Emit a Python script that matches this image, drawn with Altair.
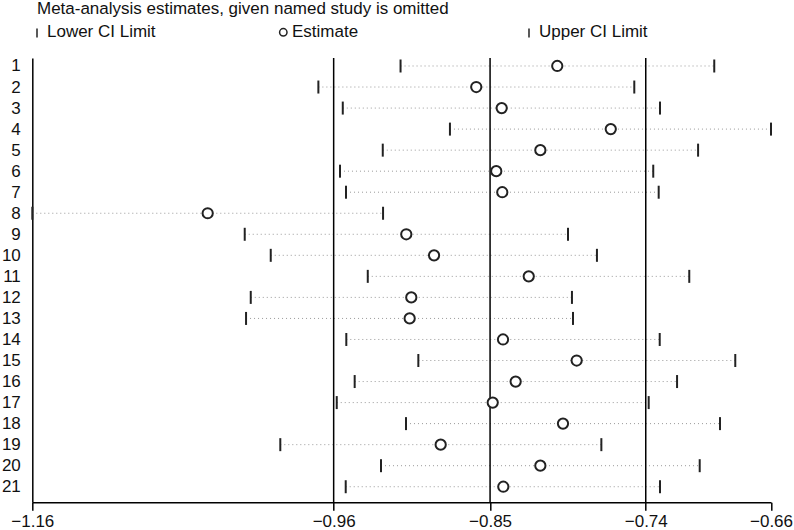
import altair as alt
import pandas as pd

# Leave-one-out meta-analysis: pooled estimate and CI when each study is omitted
study = list(range(1, 22))
lower = [-0.9105, -0.9664, -0.9498, -0.8769, -0.9226, -0.9517, -0.9476, -1.1610,
         -1.0165, -0.9988, -0.9328, -1.0124, -1.0156, -0.9474, -0.8984, -0.9417,
         -0.9539, -0.9068, -0.9923, -0.9238, -0.9478]
estimate = [-0.8039, -0.8590, -0.8417, -0.7675, -0.8154, -0.8454, -0.8413, -1.0417,
            -0.9066, -0.8877, -0.8233, -0.9032, -0.9043, -0.8408, -0.7907, -0.8322,
            -0.8478, -0.8000, -0.8832, -0.8154, -0.8406]
upper = [-0.6971, -0.7515, -0.7340, -0.6585, -0.7081, -0.7386, -0.7349, -0.9224,
         -0.7966, -0.7769, -0.7141, -0.7939, -0.7932, -0.7342, -0.6828, -0.7224,
         -0.7417, -0.6932, -0.7739, -0.7070, -0.7340]

# Full-data pooled lower limit, estimate and upper limit
overall = [-0.9560, -0.8496, -0.7437]
x_ticks = [-1.1610, -0.9560, -0.8496, -0.7437, -0.6585]

FONT = "Liberation Sans"
FS = 17
W, H = 738.7, 444.3

df = pd.DataFrame({"study": study, "lower": lower, "estimate": estimate, "upper": upper})
ref = pd.DataFrame({"v": overall})

xscale = alt.Scale(domain=[x_ticks[0], x_ticks[-1]], nice=False, zero=False)
yscale = alt.Scale(domain=[0.62, 21.74], reverse=True, nice=False, zero=False)

xaxis = alt.Axis(values=x_ticks, format=".2f", title=None, grid=False,
                 domainColor="black", domainWidth=1.5, tickColor="black",
                 tickWidth=1.5, tickSize=8, labelFont=FONT, labelFontSize=FS,
                 labelColor="#111", labelPadding=3, labelFlush=False,
                 labelOverlap=False)
yaxis = alt.Axis(values=study, format="d", title=None, grid=False,
                 domainColor="black", domainWidth=1.5, ticks=False,
                 labelFont=FONT, labelFontSize=FS, labelColor="#111",
                 labelPadding=12, labelAlign="right", labelOverlap=False,
                 labelBound=False)


def X(field):
    return alt.X(field, type="quantitative", scale=xscale, axis=xaxis)


Y = alt.Y("study:Q", scale=yscale, axis=yaxis)

base = alt.Chart(df)

dots = base.mark_rule(color="#9a9a9a", strokeWidth=1, strokeDash=[1, 3]).encode(
    x=X("lower"), x2="upper", y=Y)

refs = alt.Chart(ref).mark_rule(color="black", strokeWidth=1.5).encode(
    x=X("v"), y=alt.value(0), y2=alt.value(H))

lo_ticks = base.mark_tick(orient="vertical", color="#222", thickness=2, size=13,
                          opacity=1).encode(x=X("lower"), y=Y)
hi_ticks = base.mark_tick(orient="vertical", color="#222", thickness=2, size=13,
                          opacity=1).encode(x=X("upper"), y=Y)

circles = base.mark_point(shape="circle", filled=False, fill="white", fillOpacity=1,
                          stroke="#222", strokeWidth=2, size=105, opacity=1).encode(
    x=X("estimate"), y=Y)

one = pd.DataFrame({"k": [0]})


def label(text, x, y):
    return alt.Chart(one).mark_text(font=FONT, fontSize=FS, color="#111",
                                    align="left", baseline="middle").encode(
        x=alt.value(x), y=alt.value(y), text=alt.value(text))


def bar(x, y):
    return alt.Chart(one).mark_rule(color="#222", strokeWidth=1.5).encode(
        x=alt.value(x), y=alt.value(y - 4.5), y2=alt.value(y + 4.5))


header = label("Meta-analysis estimates, given named study is omitted", 4.7, -48.5)
legend = [
    bar(4.7, -25), label("Lower CI Limit", 14.7, -26),
    alt.Chart(one).mark_point(shape="circle", filled=False, stroke="#222",
                              strokeWidth=1.5, size=55, opacity=1).encode(
        x=alt.value(251), y=alt.value(-25.7)),
    label("Estimate", 259.7, -26),
    bar(496.7, -25), label("Upper CI Limit", 506.7, -26),
]

chart = alt.layer(dots, refs, lo_ticks, hi_ticks, circles, header, *legend).properties(
    width=W, height=H,
    autosize=alt.AutoSizeParams(type="none"),
    padding={"left": 32.3, "top": 58, "right": 23, "bottom": 28},
    background="white",
).configure_view(strokeWidth=0)

chart.save("out.html", embed_options={"renderer": "svg", "actions": False})
